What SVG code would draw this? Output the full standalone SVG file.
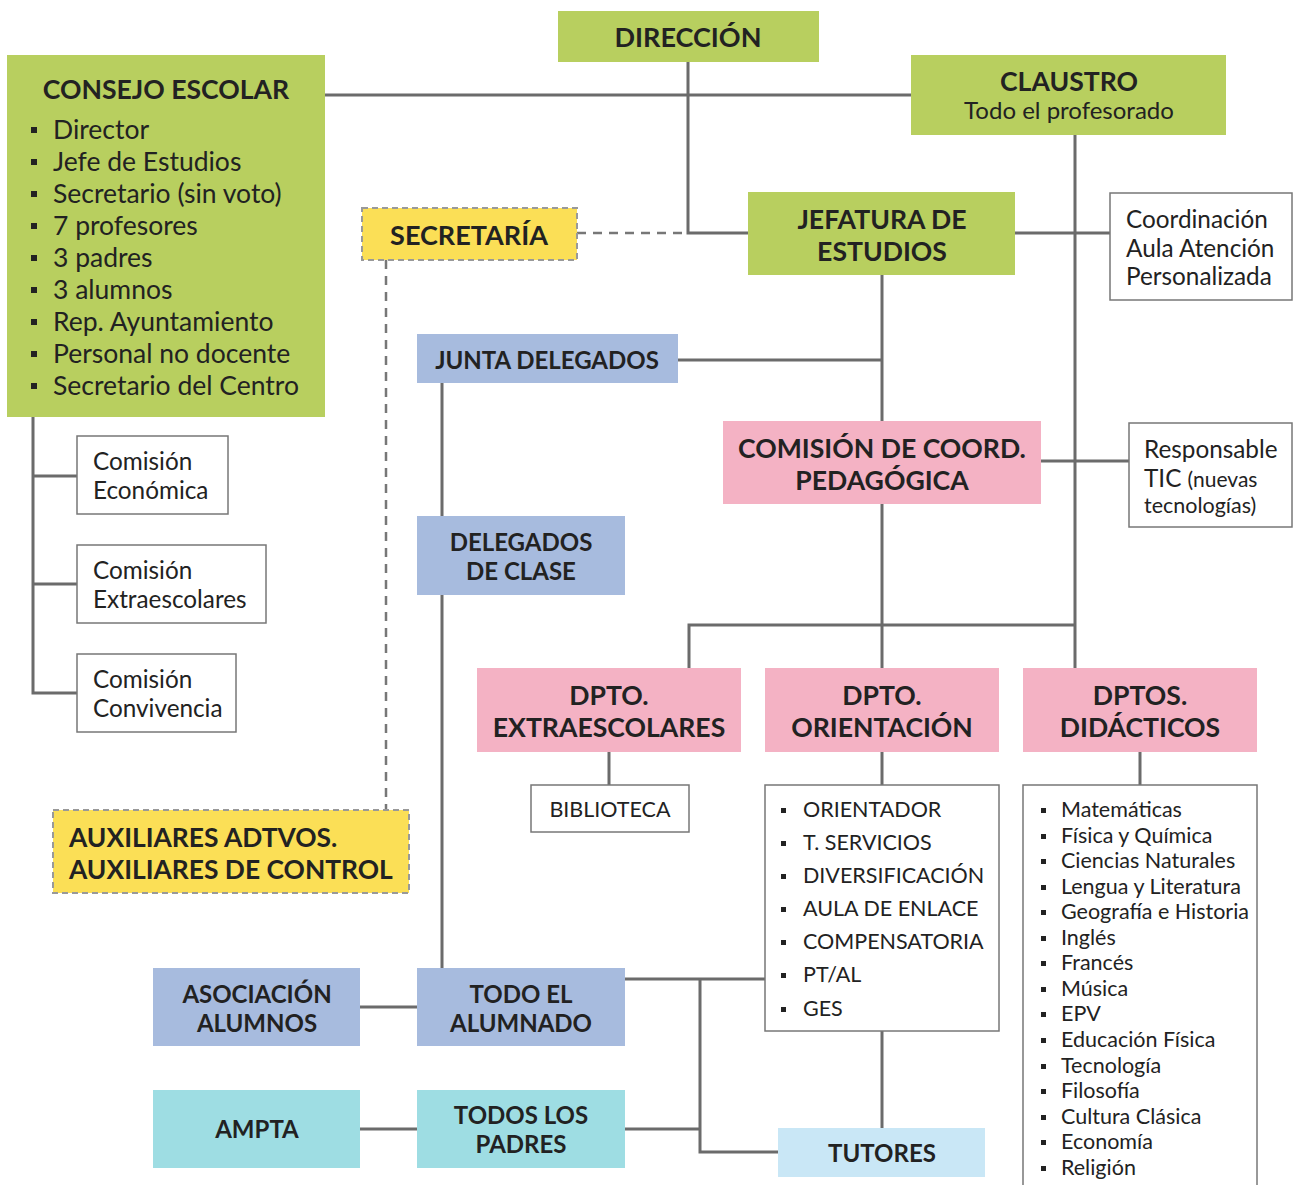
<svg xmlns="http://www.w3.org/2000/svg" width="1293" height="1185" viewBox="0 0 1293 1185">
<style>
.ln{stroke:#6b6b6b;stroke-width:3;fill:none}
.dl{stroke:#777;stroke-width:2.5;fill:none;stroke-dasharray:9 7}
.green{fill:#b8cf5f}
.yellow{fill:#fbdf56;stroke:#999;stroke-width:2;stroke-dasharray:6 4}
.blue{fill:#a7bbde}
.pink{fill:#f4b2c4}
.cyan{fill:#9edde3}
.lblue{fill:#c9e7f6}
.wb{fill:#fff;stroke:#777;stroke-width:1.5}
.h{font-family:Lato,'Liberation Sans',sans-serif;font-weight:bold;font-size:26.6px;fill:#222;text-anchor:middle}
.hb{font-family:Lato,'Liberation Sans',sans-serif;font-weight:bold;font-size:24px;fill:#222;text-anchor:middle}
.hl{font-family:Lato,'Liberation Sans',sans-serif;font-weight:bold;font-size:26.4px;fill:#222}
.r{font-family:Lato,'Liberation Sans',sans-serif;font-size:26.5px;fill:#222}
.r24{font-family:Lato,'Liberation Sans',sans-serif;font-size:24.3px;fill:#222}
.r20{font-family:Lato,'Liberation Sans',sans-serif;font-size:21.5px;fill:#222}
.bu{fill:#222}
</style>
<rect width="1293" height="1185" fill="#fff"/>
<g id="connectors">
<path class="ln" d="M325 95H911"/>
<path class="ln" d="M688 62V233H748"/>
<path class="dl" d="M577 233H688"/>
<path class="dl" d="M386 260V810"/>
<path class="ln" d="M1075 135V668"/>
<path class="ln" d="M1015 233H1110"/>
<path class="ln" d="M882 275V421"/>
<path class="ln" d="M678 360H882"/>
<path class="ln" d="M442 383V968"/>
<path class="ln" d="M1041 461H1129"/>
<path class="ln" d="M882 504V668"/>
<path class="ln" d="M689 668V625H1075"/>
<path class="ln" d="M609 752V785"/>
<path class="ln" d="M882 752V785"/>
<path class="ln" d="M1140 752V785"/>
<path class="ln" d="M882 1031V1128"/>
<path class="ln" d="M33 417V693H77M33 476H77M33 584H77"/>
<path class="ln" d="M360 1007H417"/>
<path class="ln" d="M360 1129H417"/>
<path class="ln" d="M625 979H765"/>
<path class="ln" d="M625 1129H700"/>
<path class="ln" d="M700 979V1152H778"/>
</g>
<g id="consejo">
<rect class="green" x="7" y="55" width="318" height="362"/>
<text class="h" x="166" y="99">CONSEJO ESCOLAR</text>
<g class="bu">
<rect x="31" y="127" width="6" height="6"/><rect x="31" y="159" width="6" height="6"/><rect x="31" y="191" width="6" height="6"/><rect x="31" y="223" width="6" height="6"/><rect x="31" y="255" width="6" height="6"/><rect x="31" y="287" width="6" height="6"/><rect x="31" y="319" width="6" height="6"/><rect x="31" y="351" width="6" height="6"/><rect x="31" y="383" width="6" height="6"/>
</g>
<text class="r" x="53" y="139">Director</text>
<text class="r" x="53" y="171">Jefe de Estudios</text>
<text class="r" x="53" y="203">Secretario (sin voto)</text>
<text class="r" x="53" y="235">7 profesores</text>
<text class="r" x="53" y="267">3 padres</text>
<text class="r" x="53" y="299">3 alumnos</text>
<text class="r" x="53" y="331">Rep. Ayuntamiento</text>
<text class="r" x="53" y="363">Personal no docente</text>
<text class="r" x="53" y="395">Secretario del Centro</text>
</g>
<g id="direccion">
<rect class="green" x="558" y="11" width="261" height="51"/>
<text class="h" x="688" y="47" style="font-size:27px">DIRECCIÓN</text>
</g>
<g id="claustro">
<rect class="green" x="911" y="55" width="315" height="80"/>
<text class="h" x="1069" y="91">CLAUSTRO</text>
<text class="r" x="1069" y="119" text-anchor="middle" style="font-size:24px">Todo el profesorado</text>
</g>
<g id="secretaria">
<rect class="yellow" x="362" y="208" width="215" height="52"/>
<text class="h" x="469" y="245" style="font-size:27px">SECRETARÍA</text>
</g>
<g id="jefatura">
<rect class="green" x="748" y="192" width="267" height="83"/>
<text class="h" x="882" y="229">JEFATURA DE</text>
<text class="h" x="882" y="261">ESTUDIOS</text>
</g>
<g id="coordinacion">
<rect class="wb" x="1110" y="193" width="182" height="107"/>
<text class="r24" x="1126" y="228">Coordinación</text>
<text class="r24" x="1126" y="257">Aula Atención</text>
<text class="r24" x="1126" y="285">Personalizada</text>
</g>
<g id="junta">
<rect class="blue" x="417" y="334" width="261" height="49"/>
<text class="hb" x="547" y="369">JUNTA DELEGADOS</text>
</g>
<g id="comision-ccp">
<rect class="pink" x="723" y="421" width="318" height="83"/>
<text class="h" x="882" y="458">COMISIÓN DE COORD.</text>
<text class="h" x="882" y="490">PEDAGÓGICA</text>
</g>
<g id="tic">
<rect class="wb" x="1129" y="423" width="163" height="104"/>
<text class="r24" x="1144" y="458">Responsable</text>
<text class="r24" x="1144" y="487">TIC <tspan style="font-size:21px">(nuevas</tspan></text>
<text class="r24" x="1144" y="513" style="font-size:21.5px">tecnologías)</text>
</g>
<g id="com-economica">
<rect class="wb" x="77" y="436" width="151" height="78"/>
<text class="r24" x="93" y="470">Comisión</text>
<text class="r24" x="93" y="499">Económica</text>
</g>
<g id="com-extraescolares">
<rect class="wb" x="77" y="545" width="189" height="78"/>
<text class="r24" x="93" y="579">Comisión</text>
<text class="r24" x="93" y="608">Extraescolares</text>
</g>
<g id="com-convivencia">
<rect class="wb" x="77" y="654" width="159" height="78"/>
<text class="r24" x="93" y="688">Comisión</text>
<text class="r24" x="93" y="717">Convivencia</text>
</g>
<g id="delegados-clase">
<rect class="blue" x="417" y="516" width="208" height="79"/>
<text class="hb" x="521" y="551">DELEGADOS</text>
<text class="hb" x="521" y="580">DE CLASE</text>
</g>
<g id="dpto-extraescolares">
<rect class="pink" x="477" y="668" width="264" height="84"/>
<text class="h" x="609" y="705">DPTO.</text>
<text class="h" x="609" y="737">EXTRAESCOLARES</text>
</g>
<g id="dpto-orientacion">
<rect class="pink" x="765" y="668" width="234" height="84"/>
<text class="h" x="882" y="705">DPTO.</text>
<text class="h" x="882" y="737">ORIENTACIÓN</text>
</g>
<g id="dptos-didacticos">
<rect class="pink" x="1023" y="668" width="234" height="84"/>
<text class="h" x="1140" y="705">DPTOS.</text>
<text class="h" x="1140" y="737">DIDÁCTICOS</text>
</g>
<g id="biblioteca">
<rect class="wb" x="531" y="785" width="158" height="47"/>
<text class="r20" x="610" y="817" text-anchor="middle">BIBLIOTECA</text>
</g>
<g id="orientacion-list">
<rect class="wb" x="765" y="785" width="234" height="246"/>
<g class="bu">
<rect x="781" y="808" width="5" height="5"/><rect x="781" y="841" width="5" height="5"/><rect x="781" y="874" width="5" height="5"/><rect x="781" y="907" width="5" height="5"/><rect x="781" y="940" width="5" height="5"/><rect x="781" y="973" width="5" height="5"/><rect x="781" y="1007" width="5" height="5"/>
</g>
<text class="r20" x="803" y="817">ORIENTADOR</text>
<text class="r20" x="803" y="850">T. SERVICIOS</text>
<text class="r20" x="803" y="883">DIVERSIFICACIÓN</text>
<text class="r20" x="803" y="916">AULA DE ENLACE</text>
<text class="r20" x="803" y="949">COMPENSATORIA</text>
<text class="r20" x="803" y="982">PT/AL</text>
<text class="r20" x="803" y="1016">GES</text>
</g>
<g id="didacticos-list">
<rect class="wb" x="1023" y="785" width="234" height="410"/>
<g class="bu">
<rect x="1041" y="808" width="5" height="5"/><rect x="1041" y="834" width="5" height="5"/><rect x="1041" y="859" width="5" height="5"/><rect x="1041" y="885" width="5" height="5"/><rect x="1041" y="910" width="5" height="5"/><rect x="1041" y="936" width="5" height="5"/><rect x="1041" y="961" width="5" height="5"/><rect x="1041" y="987" width="5" height="5"/><rect x="1041" y="1012" width="5" height="5"/><rect x="1041" y="1038" width="5" height="5"/><rect x="1041" y="1064" width="5" height="5"/><rect x="1041" y="1089" width="5" height="5"/><rect x="1041" y="1115" width="5" height="5"/><rect x="1041" y="1140" width="5" height="5"/><rect x="1041" y="1166" width="5" height="5"/>
</g>
<text class="r20" x="1061" y="817">Matemáticas</text>
<text class="r20" x="1061" y="843">Física y Química</text>
<text class="r20" x="1061" y="868">Ciencias Naturales</text>
<text class="r20" x="1061" y="894">Lengua y Literatura</text>
<text class="r20" x="1061" y="919">Geografía e Historia</text>
<text class="r20" x="1061" y="945">Inglés</text>
<text class="r20" x="1061" y="970">Francés</text>
<text class="r20" x="1061" y="996">Música</text>
<text class="r20" x="1061" y="1021">EPV</text>
<text class="r20" x="1061" y="1047">Educación Física</text>
<text class="r20" x="1061" y="1073">Tecnología</text>
<text class="r20" x="1061" y="1098">Filosofía</text>
<text class="r20" x="1061" y="1124">Cultura Clásica</text>
<text class="r20" x="1061" y="1149">Economía</text>
<text class="r20" x="1061" y="1175">Religión</text>
</g>
<g id="auxiliares">
<rect class="yellow" x="53" y="810" width="356" height="83"/>
<text class="hl" x="69" y="847">AUXILIARES ADTVOS.</text>
<text class="hl" x="69" y="879">AUXILIARES DE CONTROL</text>
</g>
<g id="asociacion">
<rect class="blue" x="153" y="968" width="207" height="78"/>
<text class="hb" x="257" y="1003">ASOCIACIÓN</text>
<text class="hb" x="257" y="1032">ALUMNOS</text>
</g>
<g id="alumnado">
<rect class="blue" x="417" y="968" width="208" height="78"/>
<text class="hb" x="521" y="1003">TODO EL</text>
<text class="hb" x="521" y="1032">ALUMNADO</text>
</g>
<g id="ampta">
<rect class="cyan" x="153" y="1090" width="207" height="78"/>
<text class="hb" x="257" y="1138">AMPTA</text>
</g>
<g id="padres">
<rect class="cyan" x="417" y="1090" width="208" height="78"/>
<text class="hb" x="521" y="1124">TODOS LOS</text>
<text class="hb" x="521" y="1153">PADRES</text>
</g>
<g id="tutores">
<rect class="lblue" x="778" y="1128" width="207" height="49"/>
<text class="hb" x="882" y="1162">TUTORES</text>
</g>
</svg>
